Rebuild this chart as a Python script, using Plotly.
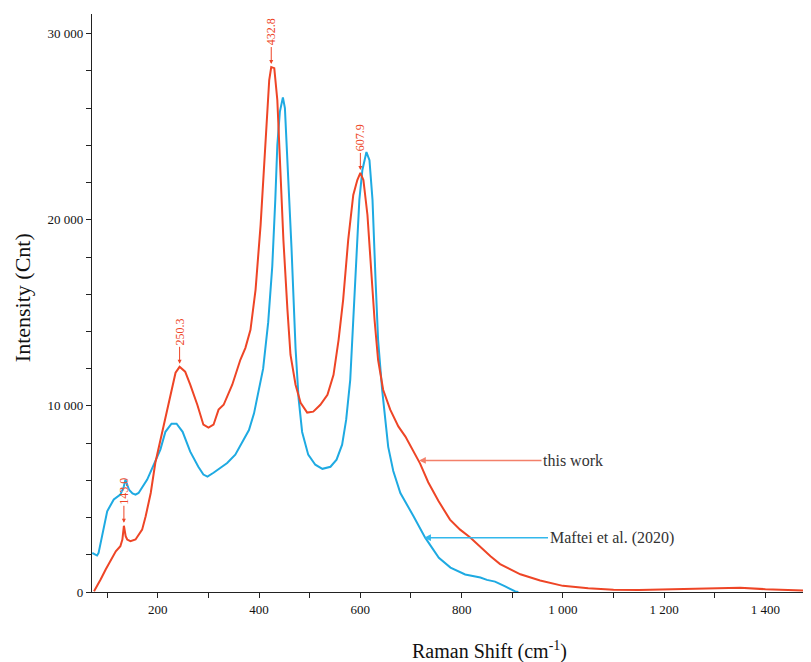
import plotly.graph_objects as go

# ---- data ----
red_x = [74, 80, 87, 97, 107, 117, 126, 130, 133, 136.5, 139.5, 146, 156, 162, 169, 176, 186, 195, 205,
         215, 225, 235, 243, 254, 264, 278, 290, 300, 310, 320, 330, 347, 363, 373, 383, 393, 403, 410,
         416, 420, 424, 430, 436, 442, 448, 456, 462, 472, 482, 495, 507, 521, 535, 547, 557, 566, 576,
         586, 594, 600, 606, 614, 620, 628, 635, 645, 659, 675, 689, 703, 718, 734, 754, 777, 797, 817,
         837, 857, 876, 916, 955, 1000, 1050, 1100, 1150, 1200, 1250, 1300, 1350, 1400, 1450, 1490]
red_y = [40, 310, 670, 1210, 1740, 2190, 2460, 2820, 3560, 3000, 2820, 2730, 2820, 3090, 3350, 4070, 5320,
         6930, 8190, 9260, 10600, 11780, 12100, 11840, 11140, 10060, 8990, 8830, 8990, 9800, 10060, 11140,
         12480, 13120, 14090, 16240, 19730, 23220, 25900, 27510, 28210, 28150, 26440, 22680, 18920, 15160,
         12750, 11140, 10170, 9640, 9690, 10060, 10600, 11670, 13550, 15700, 18920, 21340, 22140, 22520,
         22140, 20260, 17850, 14630, 12480, 10870, 9800, 8900, 8350, 7650, 6900, 5900, 4900, 3890, 3350,
         2930, 2400, 1920, 1500, 950, 620, 330, 200, 120, 110, 150, 180, 230, 230, 150, 80, 60]

blue_x = [70.5, 77, 80, 83, 90, 100, 113, 126, 133, 136, 143, 150, 156, 162, 179, 192, 205, 215, 227, 237,
          249, 264, 280, 290, 298, 310, 337, 353, 370, 380, 390, 397, 408, 418, 426, 432, 436, 441, 447,
          451, 456, 464, 472, 478, 485, 497, 511, 525, 541, 553, 564, 572, 580, 586, 592, 598, 604, 612,
          618, 624, 630, 635, 643, 655, 665, 679, 705, 728, 755, 778, 807, 837, 850, 866, 886, 906, 912]
blue_y = [2100, 2010, 1960, 2100, 3000, 4340, 4970, 5230, 5680, 6040, 5500, 5300, 5230, 5320, 6040, 6840,
          7650, 8610, 9040, 9040, 8610, 7540, 6730, 6310, 6200, 6410, 6930, 7380, 8190, 8700, 9600, 10500,
          12000, 14500, 17500, 21070, 24000, 25800, 26580, 26000, 23200, 18500, 13100, 10400, 8600, 7380,
          6840, 6620, 6730, 7110, 7920, 9260, 11400, 14630, 17850, 21070, 22680, 23640, 23200, 21070, 16770,
          13550, 10870, 7800, 6500, 5320, 4070, 2920, 1840, 1310, 940, 780, 650, 560, 300, 30, 0]

peak_labels = ["143.0", "250.3", "432.8", "607.9"]
peak_x = [133, 243, 424, 600]
peak_y = [3560, 12100, 28210, 22520]

series_names = ["this work", "Maftei et al. (2020)"]

RED = "#ee4526"
BLUE = "#1eaae2"
FONT = "Liberation Serif"

fig = go.Figure()
fig.add_trace(go.Scatter(x=blue_x, y=blue_y, mode="lines", line=dict(color=BLUE, width=2),
                         name=series_names[1], showlegend=False))
fig.add_trace(go.Scatter(x=red_x, y=red_y, mode="lines", line=dict(color=RED, width=2),
                         name=series_names[0], showlegend=False))

annotations = []
for lab, px, py in zip(peak_labels, peak_x, peak_y):
    annotations.append(dict(x=px, y=py, xref="x", yref="y", text=lab, textangle=-90,
                            showarrow=True, ax=0, ay=-35, arrowhead=2, arrowsize=0.8,
                            arrowwidth=1, arrowcolor=RED, standoff=3,
                            font=dict(family=FONT, size=12, color=RED)))

# series labels with pointer arrows
annotations.append(dict(x=716, y=7070, xref="x", yref="y", ax=1020, ay=7070, axref="x", ayref="y",
                        text=series_names[0], showarrow=True, arrowhead=2, arrowsize=0.9,
                        arrowwidth=1.5, arrowcolor="#f3806a",
                        font=dict(family=FONT, size=16, color="#333333")))
annotations.append(dict(x=726, y=2920, xref="x", yref="y", ax=1096, ay=2920, axref="x", ayref="y",
                        text=series_names[1], showarrow=True, arrowhead=2, arrowsize=0.9,
                        arrowwidth=1.5, arrowcolor="#33b8ec",
                        font=dict(family=FONT, size=16, color="#333333")))

# axis titles
annotations.append(dict(x=0.5535, y=-0.101, xref="paper", yref="paper", showarrow=False,
                        text="Raman Shift (cm<sup>-1</sup>)", xanchor="center", yanchor="middle",
                        font=dict(family=FONT, size=20, color="#111111")))
annotations.append(dict(x=-0.0974, y=0.51, xref="paper", yref="paper", showarrow=False,
                        text="Intensity (Cnt)", textangle=-90, xanchor="center", yanchor="middle",
                        font=dict(family=FONT, size=22, color="#111111")))

# the page puts the figure 8 px in from the top-left corner, so compensate in the margins
fig.update_layout(
    width=803, height=654,
    margin=dict(l=84, r=0, t=6, b=70),
    paper_bgcolor="white", plot_bgcolor="white",
    separators=". ",
    annotations=annotations,
    font=dict(family=FONT, size=13, color="#111111"),
)
fig.update_xaxes(range=[70, 1490], showgrid=False, zeroline=False, showline=True, linecolor="#222222",
                 linewidth=1.2, ticks="outside", ticklen=5, tickcolor="#222222", dtick=200, tick0=0,
                 separatethousands=True, tickformat=",d",
                 tickfont=dict(family=FONT, size=13, color="#111111"),
                 minor=dict(dtick=100, tick0=0, ticks="outside", ticklen=5, tickcolor="#222222"))
fig.update_yaxes(range=[0, 31060], showgrid=False, zeroline=False, showline=True, linecolor="#222222",
                 linewidth=1.2, ticks="outside", ticklen=5, tickcolor="#222222", dtick=10000, tick0=0,
                 separatethousands=True, tickformat=",d",
                 tickfont=dict(family=FONT, size=13, color="#111111"),
                 minor=dict(dtick=2000, tick0=0, ticks="outside", ticklen=5, tickcolor="#222222"))

fig.write_html("out.html")
